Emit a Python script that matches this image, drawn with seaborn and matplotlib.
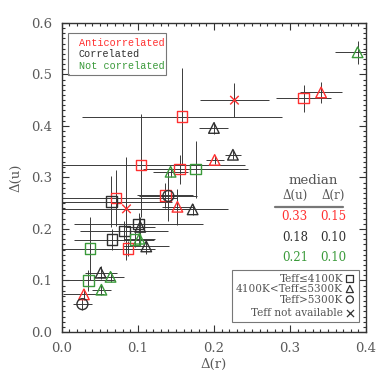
import numpy as np
import pandas as pd
import seaborn as sns
import matplotlib.pyplot as plt
from matplotlib.patches import Rectangle
from matplotlib.ticker import MultipleLocator

############################################################## Data

# group: A = anticorrelated, C = correlated, N = not correlated
# teff: sq = Teff<=4100K, tri = 4100K<Teff<=5300K, circ = Teff>5300K, x = not available
group = ['A'] * 13 + ['C'] * 12 + ['N'] * 9
teff = ['sq', 'sq', 'sq', 'sq', 'sq', 'sq', 'sq', 'tri', 'tri', 'tri', 'tri', 'x', 'x',
        'sq', 'sq', 'sq', 'sq', 'tri', 'tri', 'tri', 'tri', 'tri', 'tri', 'circ', 'circ',
        'sq', 'sq', 'sq', 'sq', 'tri', 'tri', 'tri', 'tri', 'tri']
dr = [0.104, 0.155, 0.158, 0.136, 0.071, 0.087, 0.318, 0.152, 0.201, 0.341, 0.029, 0.085, 0.227,
      0.065, 0.101, 0.082, 0.066, 0.103, 0.111, 0.172, 0.200, 0.225, 0.051, 0.140, 0.027,
      0.037, 0.035, 0.096, 0.176, 0.143, 0.102, 0.064, 0.052, 0.389]
du = [0.324, 0.316, 0.418, 0.265, 0.260, 0.162, 0.454, 0.243, 0.334, 0.465, 0.073, 0.239, 0.450,
      0.253, 0.210, 0.196, 0.179, 0.204, 0.166, 0.238, 0.396, 0.344, 0.115, 0.264, 0.054,
      0.162, 0.100, 0.179, 0.316, 0.311, 0.181, 0.107, 0.082, 0.543]
dr_err = [0.137, 0.015, 0.131, 0.037, 0.080, 0.036, 0.036, 0.020, 0.012, 0.028, 0.027, 0.130, 0.045,
          0.080, 0.085, 0.058, 0.050, 0.020, 0.030, 0.047, 0.019, 0.010, 0.021, 0.038, 0.012,
          0.037, 0.035, 0.025, 0.069, 0.023, 0.020, 0.018, 0.013, 0.030]
du_err = [0.100, 0.028, 0.094, 0.025, 0.055, 0.015, 0.026, 0.035, 0.008, 0.021, 0.010, 0.100, 0.033,
          0.049, 0.020, 0.020, 0.020, 0.020, 0.015, 0.010, 0.012, 0.008, 0.013, 0.048, 0.012,
          0.062, 0.020, 0.015, 0.055, 0.010, 0.015, 0.010, 0.010, 0.022]

median_du = ['0.33', '0.18', '0.21']
median_dr = ['0.15', '0.10', '0.10']

colors = {'A': '#ff3030', 'C': '#303030', 'N': '#3a9a3a'}
markers = {'sq': 's', 'tri': '^', 'circ': 'o', 'x': 'x'}
sizes = {'sq': 58, 'tri': 58, 'circ': 62, 'x': 38}

df = pd.DataFrame({'dr': dr, 'du': du, 'dr_err': dr_err, 'du_err': du_err,
                   'group': group, 'teff': teff})

############################################################## Plot

sns.set_style('ticks')
plt.rcParams['font.family'] = ['DejaVu Serif']
fig = plt.figure(figsize=(3.82, 3.82), dpi=100)
ax = fig.add_axes([0.162, 0.131, 0.796, 0.809])

ax.errorbar(df['dr'], df['du'], xerr=df['dr_err'], yerr=df['du_err'], fmt='none',
            ecolor='#3a3a3a', elinewidth=0.7, capsize=0, zorder=1)

for t, m in markers.items():
    sub = df[df['teff'] == t]
    sns.scatterplot(data=sub, x='dr', y='du', hue='group', palette=colors, marker=m,
                    s=sizes[t], legend=False, ax=ax, zorder=3, linewidth=1.0)
    coll = ax.collections[-1]
    if t != 'x':
        fc = coll.get_facecolors()
        coll.set_edgecolors(fc)
        coll.set_facecolors('none')

ax.set_xlim(0, 0.4)
ax.set_ylim(0, 0.6)
ax.xaxis.set_major_locator(MultipleLocator(0.1))
ax.xaxis.set_minor_locator(MultipleLocator(0.01))
ax.yaxis.set_major_locator(MultipleLocator(0.1))
ax.yaxis.set_minor_locator(MultipleLocator(0.01))
ax.xaxis.set_major_formatter(plt.FormatStrFormatter('%.1f'))
ax.yaxis.set_major_formatter(plt.FormatStrFormatter('%.1f'))
ax.tick_params(which='both', direction='in', top=True, right=True, colors='#333333',
               labelcolor='#5a5a5a', labelsize=9.5, width=0.8)
ax.tick_params(which='major', length=5, pad=7)
ax.tick_params(which='minor', length=2.5)
for sp in ax.spines.values():
    sp.set_color('#333333')
    sp.set_linewidth(1.0)

ax.set_xlabel('Δ(r)', fontsize=9.5, color='#5a5a5a', labelpad=2)
ax.set_ylabel('Δ(u)', fontsize=9.5, color='#5a5a5a', labelpad=6)

# colour legend (upper left)
ax.add_patch(Rectangle((0.021, 0.832), 0.323, 0.135, transform=ax.transAxes,
                       fill=False, edgecolor='#777777', lw=0.8, zorder=4))
for yy, txt, g in [(0.934, 'Anticorrelated', 'A'), (0.900, 'Correlated', 'C'),
                   (0.861, 'Not correlated', 'N')]:
    ax.text(0.056, yy, txt, transform=ax.transAxes, color=colors[g], fontsize=7.3,
            family='Liberation Mono', va='center', ha='left')

# median table
tc = '#555555'
ax.text(0.826, 0.490, 'median', transform=ax.transAxes, color=tc, fontsize=9.5,
        ha='center', va='center')
ax.text(0.766, 0.443, 'Δ(u)', transform=ax.transAxes, color=tc, fontsize=8.5,
        ha='center', va='center')
ax.text(0.893, 0.443, 'Δ(r)', transform=ax.transAxes, color=tc, fontsize=8.5,
        ha='center', va='center')
ax.plot([0.701, 0.925], [0.405, 0.405], transform=ax.transAxes, color='#777777', lw=1.6)
for yy, mu, mr, g in zip([0.373, 0.306, 0.242], median_du, median_dr, ['A', 'C', 'N']):
    ax.text(0.766, yy, mu, transform=ax.transAxes, color=colors[g], fontsize=8.5,
            ha='center', va='center')
    ax.text(0.893, yy, mr, transform=ax.transAxes, color=colors[g], fontsize=8.5,
            ha='center', va='center')

# teff legend (lower right)
ax.add_patch(Rectangle((0.560, 0.031), 0.417, 0.169, transform=ax.transAxes,
                       fill=False, edgecolor='#777777', lw=0.8, zorder=4))
teff_labels = ['Teff≤4100K', '4100K<Teff≤5300K', 'Teff>5300K', 'Teff not available']
for yy, lab, t in zip([0.172, 0.139, 0.105, 0.061], teff_labels, ['sq', 'tri', 'circ', 'x']):
    ax.text(0.925, yy, lab, transform=ax.transAxes, color=tc, fontsize=7.6,
            ha='right', va='center')
    ax.scatter([0.947], [yy], transform=ax.transAxes, marker=markers[t], s=26,
               facecolors='none' if t != 'x' else '#333333', edgecolors='#333333',
               linewidths=0.9, zorder=5)

fig.savefig('out.png', dpi=100)
